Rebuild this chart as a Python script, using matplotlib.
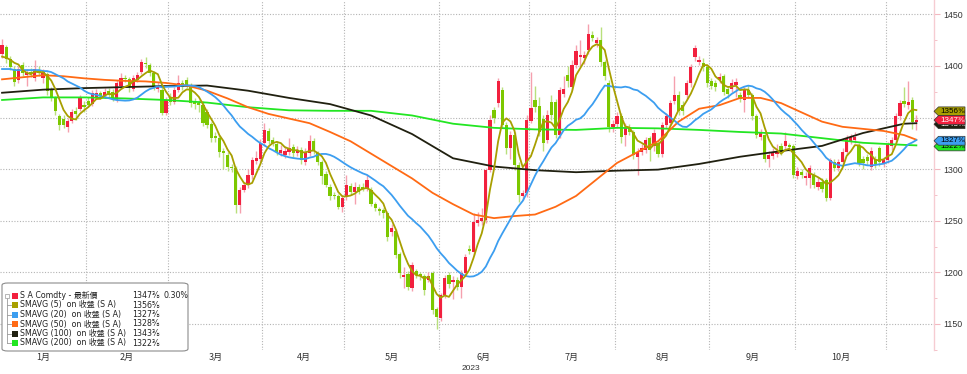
import matplotlib
matplotlib.use('Agg')
import matplotlib.pyplot as plt
import matplotlib.transforms as mtrans
from matplotlib.patches import Polygon, FancyBboxPatch, Rectangle
from matplotlib.lines import Line2D
import numpy as np
import pandas as pd

# ---------------- data ----------------
dates = pd.bdate_range('2023-01-03', periods=224)

opens = [
    # Jan
    1412,1418,1407,1397,1386,1401,1391,1394,1388,1396,1388,1392,1377,1369,1351,1349,1341,1347,1356,1358,1362,
    # Feb
    1366,1363,1370,1374,1371,1376,1375,1367,1381,1388,1387,1378,1386,1394,1403,1401,1393,1378,1377,1354,
    # Mar
    1370,1365,1377,1383,1386,1381,1366,1364,1362,1355,1344,1332,1330,1318,1314,1302,1301,1265,1280,1285,1294,1308,1310,
    # Apr
    1325,1337,1328,1324,1316,1314,1317,1321,1316,1319,1307,1316,1327,1316,1307,1295,1283,1275,1274,1263,
    # May
    1273,1284,1278,1283,1283,1281,1280,1266,1261,1260,1257,1239,1240,1218,1195,1198,1185,1201,1198,1196,1193,1199,1164,
    # Jun
    1156,1178,1197,1191,1193,1186,1199,1223,1220,1248,1250,1251,1299,1357,1364,1377,1343,1320,1333,1304,1274,1277,
    # Jul
    1347,1367,1361,1349,1328,1365,1365,1333,1373,1391,1380,1401,1409,1408,1415,1430,1422,1425,1404,1383,1341,
    # Aug
    1344,1351,1333,1341,1336,1312,1317,1319,1330,1322,1325,1315,1343,1345,1366,1372,1362,1372,1383,1409,1404,1403,1399,
    # Sep
    1385,1383,1386,1390,1378,1378,1382,1372,1367,1377,1372,1351,1331,1333,1310,1313,1315,1322,1322,1323,1322,
    # Oct
    1293,1297,1291,1291,1294,1283,1288,1289,1272,1307,1301,1307,1317,1327,1328,1322,1310,1312,1302,1310,1320,1306,
    # Nov
    1309,1322,1328,1351,1366,1362,1367,1346,
]
highs = [
    1426,1420,1410,1400,1400,1404,1397,1398,1406,1400,1397,1394,1380,1371,1353,1352,1350,1358,1360,1372,1366,
    1370,1377,1378,1376,1379,1379,1378,1386,1393,1391,1389,1391,1394,1407,1409,1403,1395,1384,1380,1370,
    1374,1380,1391,1386,1389,1383,1369,1367,1366,1358,1346,1336,1333,1320,1317,1305,1303,1283,1288,1300,1312,1318,1329,
    1345,1340,1331,1327,1323,1322,1330,1324,1322,1321,1320,1333,1330,1318,1309,1298,1286,1278,1276,1275,
    1294,1287,1288,1286,1287,1294,1283,1268,1263,1262,1259,1247,1242,1220,1205,1201,1210,1203,1200,1198,1200,1201,1166,
    1180,1197,1200,1196,1195,1202,1218,1226,1257,1258,1262,1301,1352,1360,1388,1380,1346,1337,1336,1307,1280,1352,
    1394,1381,1370,1352,1357,1372,1368,1380,1390,1400,1406,1420,1425,1414,1441,1434,1428,1438,1406,1386,1348,
    1355,1354,1345,1344,1338,1320,1324,1331,1332,1339,1328,1346,1354,1367,1390,1376,1366,1386,1402,1420,1410,1408,1401,
    1388,1386,1393,1392,1381,1387,1388,1375,1380,1382,1374,1353,1339,1336,1318,1320,1324,1325,1336,1325,1324,
    1302,1300,1297,1304,1297,1292,1291,1291,1311,1310,1310,1320,1333,1334,1336,1325,1313,1315,1321,1313,1322,1312,
    1326,1331,1354,1367,1380,1385,1370,1352,
]
lows = [
    1408,1403,1396,1381,1383,1390,1381,1389,1385,1390,1383,1372,1366,1352,1338,1340,1336,1345,1348,1356,1355,
    1360,1361,1368,1368,1369,1369,1366,1365,1378,1384,1375,1376,1384,1392,1398,1390,1377,1375,1352,1352,
    1362,1363,1375,1377,1379,1360,1358,1355,1342,1340,1326,1326,1312,1300,1298,1297,1257,1257,1278,1282,1290,1305,1307,
    1322,1324,1322,1314,1313,1311,1314,1312,1313,1305,1304,1313,1315,1304,1286,1283,1270,1271,1261,1258,
    1270,1275,1266,1276,1279,1279,1264,1259,1256,1253,1230,1235,1214,1194,1185,1183,1182,1194,1193,1178,1191,1160,1145,
    1153,1175,1185,1174,1183,1175,1196,1218,1217,1245,1246,1248,1297,1345,1360,1340,1315,1310,1299,1268,1270,1273,
    1345,1355,1332,1318,1325,1348,1330,1330,1370,1380,1377,1398,1400,1402,1412,1424,1418,1400,1386,1336,1336,
    1340,1325,1322,1333,1310,1294,1314,1316,1308,1318,1312,1312,1340,1342,1363,1352,1352,1368,1380,1405,1401,1395,1380,
    1378,1376,1383,1372,1369,1375,1370,1365,1355,1369,1348,1330,1328,1307,1302,1310,1312,1314,1319,1318,1291,
    1290,1291,1285,1282,1282,1280,1278,1269,1270,1298,1298,1304,1314,1324,1325,1303,1300,1304,1299,1301,1303,1302,
    1306,1319,1325,1348,1360,1358,1339,1338,
]
closes = [
    1420,1407,1399,1384,1397,1393,1394,1392,1397,1393,1394,1376,1369,1356,1343,1343,1347,1355,1353,1370,1360,
    1362,1374,1374,1371,1375,1372,1369,1383,1388,1387,1380,1388,1391,1404,1402,1393,1380,1381,1354,1367,
    1365,1377,1383,1380,1381,1364,1363,1362,1345,1343,1330,1330,1317,1316,1302,1301,1265,1280,1285,1294,1309,1311,1325,
    1338,1327,1325,1317,1319,1318,1320,1316,1319,1309,1317,1327,1318,1307,1293,1285,1274,1274,1263,1272,
    1285,1278,1283,1278,1281,1289,1266,1262,1259,1257,1234,1243,1217,1199,1197,1186,1207,1197,1196,1183,1196,1163,1157,
    1178,1194,1189,1193,1186,1199,1215,1221,1249,1251,1253,1299,1348,1350,1385,1343,1320,1333,1304,1275,1277,1348,
    1359,1360,1336,1325,1352,1352,1333,1377,1378,1385,1401,1414,1411,1411,1431,1427,1425,1404,1390,1341,1344,
    1351,1331,1340,1336,1314,1317,1320,1328,1319,1335,1315,1343,1351,1364,1372,1356,1356,1383,1399,1417,1406,1399,1383,
    1381,1380,1389,1375,1373,1383,1384,1368,1378,1372,1351,1333,1336,1310,1314,1316,1318,1317,1327,1321,1294,
    1298,1294,1293,1301,1285,1288,1281,1272,1309,1301,1307,1317,1330,1331,1331,1306,1306,1308,1318,1305,1307,1309,
    1323,1328,1351,1364,1363,1365,1346,1348,
]

# first values of the short averages (need history before the window)
sma5_head = [1409, 1408, 1406, 1403]
sma20_head = [1397, 1397, 1397, 1396, 1396, 1396, 1396, 1396, 1396, 1396,
              1395, 1395, 1394, 1392, 1390, 1388, 1385, 1383, 1381]

# long averages (trading-day index, value)
sma50_idx = [0,5,10,15,20,25,30,35,40,45,50,55,60,65,70,75,80,85,90,95,100,105,110,115,
             120,125,130,135,140,145,150,155,160,165,170,175,180,185,190,195,200,205,210,215,220,223]
sma50_val = [1387,1389,1391,1390,1388,1386.5,1385.5,1385,1383.5,1381,1376,1368.5,1360,1353.5,1349,
             1344.5,1336,1327,1315,1303,1291,1277,1266,1256,1252.5,1254.5,1256,1263.5,1274,1290,
             1306,1316.5,1327,1346,1358.5,1362,1369,1369,1364,1355,1346,1341,1339,1337,1333,1328.5]
sma100_idx = [0,10,20,30,40,50,60,70,80,90,100,110,120,130,140,150,160,170,180,190,200,210,220,223]
sma100_val = [1374,1377,1378.5,1379.5,1380.5,1381,1376,1369,1363,1352,1334,1310.5,1302.5,1299,1297,
              1298.5,1299.5,1305,1312,1317.5,1322.5,1335,1344,1344.5]
sma200_idx = [0,10,20,30,40,50,60,70,80,90,100,110,120,130,140,150,160,170,180,190,200,210,220,223]
sma200_val = [1367,1369.5,1369.5,1368.5,1367,1364.5,1360,1357,1356.5,1356.5,1352,1344,1340,1338.5,
              1338,1340,1339.5,1338,1336,1334.5,1330,1325.5,1323.5,1323]

month_labels = ['1月','2月','3月','4月','5月','6月','7月','8月','9月','10月']
year_label = '2023'
y_ticks = [1150, 1200, 1250, 1300, 1350, 1400, 1450]

legend_rows = [
    ('S A Comdty - 最新價', '1347⅜', '0.30%'),
    ('SMAVG (5)  on 收盤 (S A)', '1356⅝', ''),
    ('SMAVG (20)  on 收盤 (S A)', '1327⅜', ''),
    ('SMAVG (50)  on 收盤 (S A)', '1328⅝', ''),
    ('SMAVG (100)  on 收盤 (S A)', '1343⅜', ''),
    ('SMAVG (200)  on 收盤 (S A)', '1322⅜', ''),
]
tags = [  # (value, text, face, text colour) - drawn bottom-most first
    (1322, '1322⅜', '#22E622', '#000000'),
    (1327.5, '1327⅜', '#3C9EF0', '#000000'),
    (1343.5, '1343⅜', '#202010', '#FFFFFF'),
    (1356, '1356⅝', '#A89F00', '#000000'),
    (1347.5, '1347⅜', '#F2203E', '#FFFFFF'),
]

# ---------------- styles ----------------
C_UP, C_DN = '#F2203E', '#7CC800'
W_UP, W_DN = '#F5A0AE', '#B8E07C'
C5, C20, C50, C100, C200 = '#A89F00', '#3C9EF0', '#FF6A14', '#202010', '#22E622'
FAM = ['DejaVu Sans', 'Noto Sans CJK TC']

W, H = 967, 374
fig = plt.figure(figsize=(W / 100, H / 100), dpi=100)
fig.patch.set_facecolor('white')
ax = fig.add_axes([0, 1 - 350 / H, 934 / W, 350 / H])

o = np.array(opens, float); c = np.array(closes, float)
h = np.array(highs, float); l = np.array(lows, float)
n = len(c)
x = np.arange(n) + 0.5
up = c >= o

ax.vlines(x[up], l[up], h[up], color=W_UP, lw=1.0, zorder=2)
ax.vlines(x[~up], l[~up], h[~up], color=W_DN, lw=1.0, zorder=2)
bot = np.minimum(o, c)
hgt = np.maximum(np.abs(c - o), 1.0)
ax.bar(x[up], hgt[up], bottom=bot[up], width=0.8, color=C_UP, lw=0, zorder=3)
ax.bar(x[~up], hgt[~up], bottom=bot[~up], width=0.8, color=C_DN, lw=0, zorder=3)

cs = pd.Series(c)
sma5 = cs.rolling(5).mean().to_numpy()
sma5[:len(sma5_head)] = sma5_head
sma20 = cs.rolling(20).mean().to_numpy()
sma20[:len(sma20_head)] = sma20_head

ax.plot(np.array(sma200_idx) + 0.5, sma200_val, color=C200, lw=1.3, zorder=4)
ax.plot(np.array(sma100_idx) + 0.5, sma100_val, color=C100, lw=1.3, zorder=4)
ax.plot(np.array(sma50_idx) + 0.5, sma50_val, color=C50, lw=1.3, zorder=4)
ax.plot(x, sma20, color=C20, lw=1.3, zorder=5)
ax.plot(x, sma5, color=C5, lw=1.3, zorder=6)

xmax = 934 / 4.1
ax.set_xlim(0, xmax)
ax.set_ylim(1124.7, 1463.9)

# month boundaries
months = dates.month.to_numpy()
starts = [0] + [i for i in range(1, n) if months[i] != months[i - 1]]
for k in starts[1:]:
    ax.axvline(k, color='#B4B4B4', lw=0.8, ls=(0, (1, 1.5)), zorder=1)
for yv in y_ticks:
    ax.axhline(yv, color='#B4B4B4', lw=0.8, ls=(0, (1, 1.5)), zorder=1)

bounds = starts + [n]
tr = mtrans.blended_transform_factory(ax.transData, ax.transAxes)
for j, lab in enumerate(month_labels):
    mid = (bounds[j] + bounds[j + 1]) / 2
    ax.text(mid, -0.021, lab, transform=tr, ha='center', va='center',
            fontsize=6.5, family=['Noto Sans CJK TC', 'DejaVu Sans'], color='#333333')
ax.text(471 / 4.1, -0.052, year_label, transform=tr, ha='center', va='center',
        fontsize=6, family=['Liberation Sans', 'DejaVu Sans'], color='#333333')

# axes styling
for s in ['left', 'top', 'bottom']:
    ax.spines[s].set_visible(False)
ax.spines['right'].set_color('#F6CCD2')
ax.spines['right'].set_linewidth(1.0)
ax.set_xticks([])
ax.yaxis.tick_right()
ax.set_yticks(y_ticks)
ax.set_yticks([v + 25 for v in y_ticks[:-1]] + [1125], minor=True)
ax.tick_params(axis='y', which='major', length=4, color='#F2B8C0', pad=3,
               labelsize=6.3, labelcolor='#333333')
ax.tick_params(axis='y', which='minor', length=2.5, color='#F2B8C0')
for t in ax.get_yticklabels():
    t.set_family(['Liberation Sans', 'DejaVu Sans'])

# price tags on the right axis (later tags lie on top of earlier ones)
trt = mtrans.blended_transform_factory(ax.transAxes, ax.transData)
th = 8.6
aw = 4.5 / 934
bw = 31 / 934
for k, (val, txt, face, tc) in enumerate(tags):
    z = 10 + 2 * k
    pts = [(1.0, val), (1.0 + aw, val + th / 2), (1.0 + bw, val + th / 2),
           (1.0 + bw, val - th / 2), (1.0 + aw, val - th / 2)]
    ax.add_patch(Polygon(pts, closed=True, transform=trt, facecolor=face,
                         edgecolor='#333333', lw=0.5, clip_on=False, zorder=z))
    ax.text(1.0 + aw + 1.5 / 934, val, txt, transform=trt, ha='left', va='center',
            fontsize=5.8, color=tc, clip_on=False, zorder=z + 1,
            family=['Liberation Sans', 'DejaVu Sans'])

# legend panel
def fx(px):
    return px / W

def fy(py):
    return 1 - py / H

box = FancyBboxPatch((fx(2), fy(351)), fx(186), 68 / H,
                     boxstyle='round,pad=0,rounding_size=0.006',
                     transform=fig.transFigure, facecolor='white',
                     edgecolor='#8C8C8C', lw=0.8, zorder=20)
fig.add_artist(box)
row_y = [295.5, 305, 314.5, 324, 333.5, 343]
colors = [C_UP, C5, C20, C50, C100, C200]
fig.add_artist(Line2D([fx(6.5), fx(6.5)], [fy(298), fy(343)], transform=fig.transFigure,
                      color='#9A9A9A', lw=0.6, zorder=21))
fig.add_artist(Rectangle((fx(4.5), fy(297.5)), fx(4), 4 / H, transform=fig.transFigure,
                         facecolor='white', edgecolor='#9A9A9A', lw=0.5, zorder=22))
for yy in row_y[1:]:
    fig.add_artist(Line2D([fx(6.5), fx(10.5)], [fy(yy), fy(yy)], transform=fig.transFigure,
                          color='#9A9A9A', lw=0.6, zorder=21))
for (name, val, pct), yy, col in zip(legend_rows, row_y, colors):
    fig.add_artist(Rectangle((fx(11.5), fy(yy + 3)), fx(6), 6 / H, transform=fig.transFigure,
                             facecolor=col, edgecolor='none', zorder=22))
    fig.text(fx(20.5), fy(yy), name, ha='left', va='center', fontsize=5.7,
             family=FAM, color='#222222', zorder=23)
    fig.text(fx(132), fy(yy), val, ha='left', va='center', fontsize=5.7,
             family=FAM, color='#222222', zorder=23)
    if pct:
        fig.text(fx(163), fy(yy), pct, ha='left', va='center', fontsize=5.7,
                 family=FAM, color='#222222', zorder=23)

fig.savefig('out.png', dpi=100, facecolor='white')
